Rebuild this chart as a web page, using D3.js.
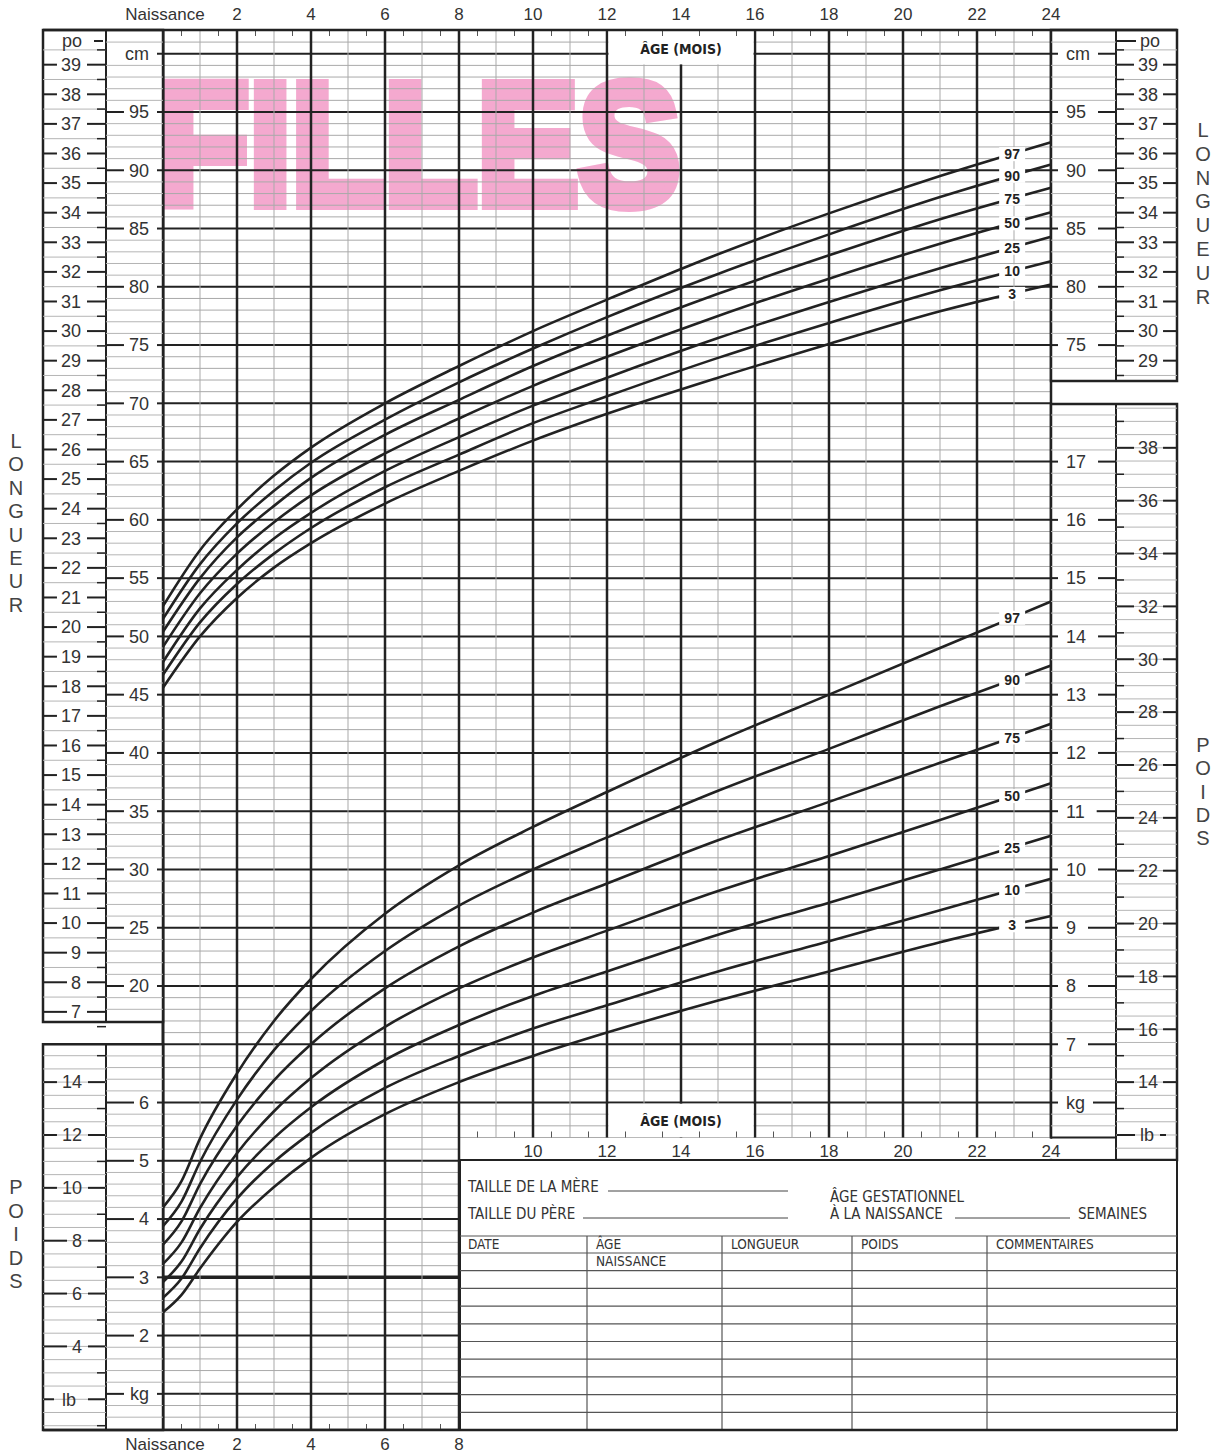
<!DOCTYPE html>
<html lang="fr">
<head>
<meta charset="utf-8">
<title>Filles - longueur et poids, naissance à 24 mois</title>
<script src="https://cdn.jsdelivr.net/npm/d3@7"></script>
<style>
  body { margin: 0; background: #fff; }
</style>
</head>
<body>
<script>
// ---- data ----
var percentiles = ["3", "10", "25", "50", "75", "90", "97"];

// longueur (cm) by age (months)
var moisL = [0, 1, 2, 3, 4, 6, 8, 10, 12, 15, 18, 21, 24];
var longP3  = [45.6, 50.0, 53.3, 55.9, 58.0, 61.4, 64.2, 66.8, 69.1, 72.2, 75.1, 77.9, 80.2];
var longP10 = [46.7, 51.2, 54.5, 57.1, 59.3, 62.8, 65.6, 68.3, 70.6, 73.9, 76.9, 79.7, 82.2];
var longP25 = [47.8, 52.4, 55.7, 58.4, 60.6, 64.2, 67.1, 69.8, 72.2, 75.6, 78.7, 81.6, 84.3];
var longP50 = [49.1, 53.7, 57.1, 59.8, 62.1, 65.7, 68.7, 71.5, 74.0, 77.5, 80.7, 83.7, 86.4];
var longP75 = [50.4, 55.0, 58.5, 61.2, 63.6, 67.3, 70.3, 73.2, 75.8, 79.4, 82.7, 85.8, 88.5];
var longP90 = [51.5, 56.2, 59.7, 62.5, 64.9, 68.6, 71.8, 74.7, 77.4, 81.1, 84.5, 87.7, 90.5];
var longP97 = [52.6, 57.4, 60.9, 63.8, 66.2, 70.0, 73.2, 76.2, 78.9, 82.8, 86.3, 89.5, 92.4];

// poids (kg) by age (months)
var moisP = [0, 0.5, 1, 2, 3, 4, 6, 8, 10, 12, 15, 18, 21, 24];
var poidsP3  = [2.4, 2.7, 3.15, 3.95, 4.55, 5.05, 5.8, 6.35, 6.8, 7.2, 7.75, 8.25, 8.75, 9.2];
var poidsP10 = [2.65, 2.98, 3.5, 4.35, 4.98, 5.48, 6.25, 6.8, 7.27, 7.67, 8.25, 8.77, 9.3, 9.84];
var poidsP25 = [2.92, 3.27, 3.83, 4.72, 5.39, 5.92, 6.73, 7.33, 7.83, 8.25, 8.88, 9.43, 10.0, 10.58];
var poidsP50 = [3.23, 3.6, 4.19, 5.13, 5.85, 6.42, 7.3, 7.96, 8.49, 8.95, 9.63, 10.23, 10.85, 11.48];
var poidsP75 = [3.56, 3.96, 4.6, 5.6, 6.38, 7.0, 7.96, 8.68, 9.26, 9.76, 10.5, 11.16, 11.83, 12.5];
var poidsP90 = [3.88, 4.3, 4.98, 6.05, 6.9, 7.57, 8.6, 9.38, 10.0, 10.55, 11.35, 12.07, 12.8, 13.5];
var poidsP97 = [4.2, 4.65, 5.38, 6.5, 7.4, 8.12, 9.24, 10.07, 10.73, 11.33, 12.2, 13.0, 13.8, 14.6];

// tick labels
var ageTicks = [0, 2, 4, 6, 8, 10, 12, 14, 16, 18, 20, 22, 24];
var cmGauche = [95, 90, 85, 80, 75, 70, 65, 60, 55, 50, 45, 40, 35, 30, 25, 20];
var poGauche = d3.range(39, 6, -1);
var kgGauche = [6, 5, 4, 3, 2];
var lbGauche = [14, 12, 10, 8, 6, 4];
var cmDroite = [95, 90, 85, 80, 75];
var poDroite = d3.range(39, 28, -1);
var kgDroite = [17, 16, 15, 14, 13, 12, 11, 10, 9, 8, 7];
var lbDroite = [38, 36, 34, 32, 30, 28, 26, 24, 22, 20, 18, 16, 14];
var colonnes = ["DATE", "ÂGE", "LONGUEUR", "POIDS", "COMMENTAIRES"];

var longueurs = [longP3, longP10, longP25, longP50, longP75, longP90, longP97];
var poids = [poidsP3, poidsP10, poidsP25, poidsP50, poidsP75, poidsP90, poidsP97];

// ---- layout ----
var W = 1219, H = 1456;
var FONT = "'Liberation Sans', Arial, Helvetica, sans-serif";
var NARROW = "'Liberation Sans Narrow', 'Arial Narrow', 'DejaVu Sans Condensed', sans-serif";
var DARK = "#222", GRIS = "#a9a9a9", TXT = "#333";

var x = d3.scaleLinear().domain([0, 24]).range([163, 1051]);
var yCm = d3.scaleLinear().domain([95, 20]).range([112, 986]);
var yKg = d3.scaleLinear().domain([1, 17]).range([yCm(-15), yCm(65)]);
var yIn = d3.scaleLinear().domain([0, 10]).range([yCm(0), yCm(25.4)]);
var yLb = d3.scaleLinear().domain([0, 10]).range([yKg(0), yKg(4.5359237)]);

var TOP = 30, BAS = 1430, BAS_D = yCm(7); // grid bottom on the right part

var svg = d3.select("body").append("svg")
    .attr("width", W).attr("height", H)
    .style("display", "block");
svg.append("rect").attr("width", W).attr("height", H).attr("fill", "#fff");

function line(g, x1, y1, x2, y2, color, w) {
  return g.append("line").attr("x1", x1).attr("y1", y1).attr("x2", x2).attr("y2", y2)
    .attr("stroke", color).attr("stroke-width", w);
}

// big pink title behind the grid
svg.append("text")
    .attr("x", 156).attr("y", 204)
    .attr("font-family", FONT).attr("font-weight", "bold").attr("font-size", 172)
    .attr("textLength", 524).attr("lengthAdjust", "spacingAndGlyphs")
    .attr("fill", "#f4a9cf").attr("stroke", "#f4a9cf").attr("stroke-width", 12)
    .attr("stroke-linejoin", "miter")
    .text("FILLES");

// ---- main grid ----
var grid = svg.append("g");
var niveaux = d3.range(101, -19, -1);
grid.selectAll(".hmin").data(niveaux.filter(function(c) { return c % 5 !== 0; }))
  .enter().append("line")
    .attr("x1", 163).attr("x2", function(c) { return c >= 7 ? 1051 : 460; })
    .attr("y1", function(c) { return yCm(c); }).attr("y2", function(c) { return yCm(c); })
    .attr("stroke", GRIS).attr("stroke-width", 1);
grid.selectAll(".hmaj").data(niveaux.filter(function(c) { return c % 5 === 0; }))
  .enter().append("line")
    .attr("x1", 163).attr("x2", function(c) { return c >= 7 ? 1051 : 460; })
    .attr("y1", function(c) { return yCm(c); }).attr("y2", function(c) { return yCm(c); })
    .attr("stroke", DARK).attr("stroke-width", function(c) { return c === -5 ? 3.5 : 2; });

var moisGrille = d3.range(1, 24);
grid.selectAll(".v").data(moisGrille).enter().append("line")
    .attr("x1", function(m) { return x(m); }).attr("x2", function(m) { return x(m); })
    .attr("y1", TOP).attr("y2", function(m) { return m <= 8 ? BAS : BAS_D; })
    .attr("stroke", function(m) { return m % 2 ? GRIS : DARK; })
    .attr("stroke-width", function(m) { return m % 2 ? 1 : 2.5; });
line(grid, x(0), TOP, x(0), BAS, DARK, 3);
line(grid, x(24), TOP, x(24), BAS_D, DARK, 2.5);

// white boxes for "ÂGE (MOIS)"
svg.append("rect").attr("x", x(12) + 1.5).attr("y", TOP).attr("width", x(16) - x(12) - 3)
    .attr("height", yCm(99) - TOP - 1).attr("fill", "#fff");
svg.append("rect").attr("x", x(12) + 1.5).attr("y", yKg(6) + 1.2).attr("width", x(16) - x(12) - 3)
    .attr("height", BAS_D - yKg(6) - 1.5).attr("fill", "#fff");
[TOP + 24, yKg(6) + 23].forEach(function(yy) {
  svg.append("text").attr("x", (x(12) + x(16)) / 2).attr("y", yy)
      .attr("text-anchor", "middle").attr("font-family", NARROW).attr("font-weight", "bold")
      .attr("font-size", 14).attr("fill", DARK).text("ÂGE (MOIS)");
});

// half-month ticks
var demi = d3.range(0.5, 24, 1);
svg.selectAll(".tt").data(demi).enter().append("line")
    .attr("x1", function(m) { return x(m); }).attr("x2", function(m) { return x(m); })
    .attr("y1", TOP).attr("y2", TOP + 6).attr("stroke", "#555").attr("stroke-width", 1);
svg.selectAll(".tb").data(demi).enter().append("line")
    .attr("x1", function(m) { return x(m); }).attr("x2", function(m) { return x(m); })
    .attr("y1", function(m) { return m < 8 ? BAS : BAS_D; })
    .attr("y2", function(m) { return (m < 8 ? BAS : BAS_D) - 6; })
    .attr("stroke", "#555").attr("stroke-width", 1);

// ---- percentile curves ----
var courbes = svg.append("g");
var lineL = d3.line().curve(d3.curveMonotoneX)
    .x(function(d, i) { return x(moisL[i]); }).y(function(d) { return yCm(d); });
var lineP = d3.line().curve(d3.curveMonotoneX)
    .x(function(d, i) { return x(moisP[i]); }).y(function(d) { return yKg(d); });
courbes.selectAll(".cl").data(longueurs).enter().append("path")
    .attr("d", lineL).attr("fill", "none").attr("stroke", DARK).attr("stroke-width", 2.6);
courbes.selectAll(".cp").data(poids).enter().append("path")
    .attr("d", lineP).attr("fill", "none").attr("stroke", DARK).attr("stroke-width", 2.6);

function etiquettes(series, mois, ys) {
  series.forEach(function(s, i) {
    var v = d3.scaleLinear().domain(mois).range(s)(22.95);
    var g = svg.append("g").attr("transform", "translate(" + x(22.95) + "," + ys(v) + ")");
    g.append("rect").attr("x", -13).attr("y", -7).attr("width", 26).attr("height", 14).attr("fill", "#fff");
    g.append("text").attr("text-anchor", "middle").attr("dy", "0.36em")
        .attr("font-family", FONT).attr("font-weight", "bold").attr("font-size", 14)
        .attr("fill", DARK).text(percentiles[i]);
  });
}
etiquettes(longueurs, moisL, yCm);
etiquettes(poids, moisP, yKg);

// ---- side panels ----
var cote = svg.append("g");

function cadre(x0, y0, x1, y1, div) {
  cote.append("rect").attr("x", x0).attr("y", y0).attr("width", x1 - x0).attr("height", y1 - y0)
      .attr("fill", "#fff").attr("stroke", DARK).attr("stroke-width", 2.5);
  line(cote, div, y0, div, y1, DARK, 2);
}

function grisLignes(vals, ys, x0, x1, y0, y1) {
  vals.forEach(function(v) {
    var yy = ys(v);
    if (yy > y0 + 2 && yy < y1 - 2) line(cote, x0, yy, x1, yy, "#b5b5b5", 1);
  });
}

// label with a dash on each side; anchor "start" or "end" at tx
function marque(yy, lab, tx, anchor, colL, colR, gapL, gapR, dashL, dashR) {
  var t = cote.append("text").attr("x", tx).attr("y", yy).attr("dy", "0.35em")
      .attr("text-anchor", anchor).attr("font-family", FONT).attr("font-size", 18)
      .attr("fill", TXT).text(lab);
  var w = t.node().getComputedTextLength();
  var bx = anchor === "end" ? tx - w : tx;
  if (dashL) line(cote, colL, yy, bx - gapL, yy, DARK, 2);
  if (dashR) line(cote, bx + w + gapR, yy, colR, yy, DARK, 2);
}

// upper left: po | cm
cadre(43, TOP, 163, 1022, 106);
grisLignes(d3.range(101, 16, -1).filter(function(c) { return c % 5 !== 0; }), yCm, 106, 163, TOP, 1022);
grisLignes(d3.range(39.5, 6, -1), yIn, 43, 106, TOP, 1022);
d3.range(39.5, 6, -1).forEach(function(v) { line(cote, 97, yIn(v), 106, yIn(v), DARK, 1.5); });
cmGauche.forEach(function(c) { marque(yCm(c), String(c), 149, "end", 107, 163, 5, 8, true, true); });
marque(yCm(100), "cm", 149, "end", 107, 163, 5, 8, false, true);
poGauche.forEach(function(p) { marque(yIn(p), String(p), 81, "end", 44, 105, 4, 6, true, true); });
marque(41, "po", 82, "end", 44, 103, 4, 12, false, true);

// lower left: lb | kg
cadre(43, yKg(7), 163, BAS, 106);
grisLignes(d3.range(6.8, 0.3, -0.2).filter(function(k) { return Math.abs(k - Math.round(k)) > 0.05; }), yKg, 106, 163, yKg(7), BAS);
grisLignes(d3.range(15.5, 0, -0.5), yLb, 43, 106, yKg(7), BAS);
d3.range(15, 0, -2).forEach(function(v) { line(cote, 97, yLb(v), 106, yLb(v), DARK, 1.5); });
kgGauche.forEach(function(k) { marque(yKg(k), String(k), 149, "end", 107, 163, 5, 8, true, true); });
marque(yKg(1), "kg", 149, "end", 107, 163, 6, 8, true, true);
lbGauche.forEach(function(l) { marque(yLb(l), String(l), 82, "end", 44, 105, 5, 6, true, true); });
marque(yLb(2), "lb", 76, "end", 44, 105, 8, 12, true, true);

// upper right: cm | po
cadre(1051, TOP, 1177, 381, 1116);
grisLignes(d3.range(101, 71, -1).filter(function(c) { return c % 5 !== 0; }), yCm, 1051, 1116, TOP, 381);
grisLignes(d3.range(39.5, 28, -1), yIn, 1116, 1177, TOP, 381);
d3.range(39.5, 28, -1).forEach(function(v) { line(cote, 1116, yIn(v), 1124, yIn(v), DARK, 1.5); });
cmDroite.forEach(function(c) { marque(yCm(c), String(c), 1066, "start", 1052, 1116, 8, 12, true, true); });
marque(yCm(100), "cm", 1066, "start", 1052, 1116, 8, 8, true, true);
poDroite.forEach(function(p) { marque(yIn(p), String(p), 1138, "start", 1117, 1177, 4, 5, true, true); });
marque(41, "po", 1140, "start", 1117, 1124, 4, 5, true, false);

// lower right: kg | lb
cadre(1051, 404, 1177, 1160, 1116);
grisLignes(d3.range(17.8, 5.3, -0.2).filter(function(k) { return Math.abs(k - Math.round(k)) > 0.05; }), yKg, 1051, 1116, 404, 1160);
grisLignes(d3.range(39.5, 10, -0.5), yLb, 1116, 1177, 404, 1160);
d3.range(39, 10, -2).forEach(function(v) { line(cote, 1116, yLb(v), 1124, yLb(v), DARK, 1.5); });
kgDroite.forEach(function(k) { marque(yKg(k), String(k), 1066, "start", 1052, 1116, 8, 12, true, true); });
marque(yKg(6), "kg", 1066, "start", 1052, 1116, 8, 8, true, true);
lbDroite.forEach(function(l) { marque(yLb(l), String(l), 1138, "start", 1117, 1177, 4, 5, true, true); });
marque(yLb(12), "lb", 1140, "start", 1117, 1166, 5, 6, true, true);
// the kg column stops at the grid bottom; the age labels row runs below it
cote.append("rect").attr("x", 1049).attr("y", BAS_D + 1.2).attr("width", 66)
    .attr("height", 1160 - BAS_D - 2.4).attr("fill", "#fff");
line(cote, 1051, BAS_D, 1116, BAS_D, DARK, 2);

// top border
line(svg, 43, TOP, 1177, TOP, DARK, 2.5);

// ---- age axis labels ----
function ageLabel(m, yy) {
  var dx = m === 0 ? 2 : 0;
  svg.append("text").attr("x", x(m) + dx).attr("y", yy).attr("text-anchor", "middle")
      .attr("font-family", FONT).attr("font-size", 17).attr("fill", TXT)
      .text(m === 0 ? "Naissance" : String(m));
}
ageTicks.forEach(function(m) { ageLabel(m, 20); });
ageTicks.filter(function(m) { return m <= 8; }).forEach(function(m) { ageLabel(m, 1450); });
ageTicks.filter(function(m) { return m >= 10; }).forEach(function(m) { ageLabel(m, 1157); });

// stacked axis titles
function vertical(mot, cx, y0, pas) {
  mot.split("").forEach(function(ch, i) {
    svg.append("text").attr("x", cx).attr("y", y0 + i * pas).attr("text-anchor", "middle")
        .attr("font-family", FONT).attr("font-size", 20).attr("fill", "#444").text(ch);
  });
}
vertical("LONGUEUR", 16, 448, 23.4);
vertical("POIDS", 16, 1194, 23.5);
vertical("LONGUEUR", 1203, 137, 23.8);
vertical("POIDS", 1203, 752, 23.3);

// ---- record table ----
var tab = svg.append("g");
tab.append("rect").attr("x", 460).attr("y", 1160).attr("width", 717).attr("height", BAS - 1160)
    .attr("fill", "#fff").attr("stroke", DARK).attr("stroke-width", 2);
function petit(tx, ty, s, size) {
  tab.append("text").attr("x", tx).attr("y", ty).attr("font-family", NARROW)
      .attr("font-size", size || 15).attr("fill", TXT).text(s);
}
petit(468, 1192, "TAILLE DE LA MÈRE");
line(tab, 608, 1191, 788, 1191, "#444", 1);
petit(468, 1219, "TAILLE DU PÈRE");
line(tab, 583, 1218, 788, 1218, "#444", 1);
petit(830, 1202, "ÂGE GESTATIONNEL");
petit(830, 1219, "À LA NAISSANCE");
line(tab, 955, 1218, 1070, 1218, "#444", 1);
petit(1078, 1219, "SEMAINES");

var xCols = [460, 587, 722, 852, 987];
var lignes = [1236, 1253].concat(d3.range(1, 10).map(function(i) { return 1253 + i * 17.7; }));
lignes.forEach(function(yy) { line(tab, 460, yy, 1177, yy, "#555", 1.2); });
xCols.slice(1).forEach(function(xx) { line(tab, xx, 1236, xx, BAS, "#555", 1.2); });
colonnes.forEach(function(c, i) { petit(xCols[i] + (i ? 9 : 8), 1249, c, 13.5); });
petit(xCols[1] + 9, 1266, "NAISSANCE", 13.5);

// bottom border
line(svg, 43, BAS, 1177, BAS, DARK, 2.5);
</script>
</body>
</html>
